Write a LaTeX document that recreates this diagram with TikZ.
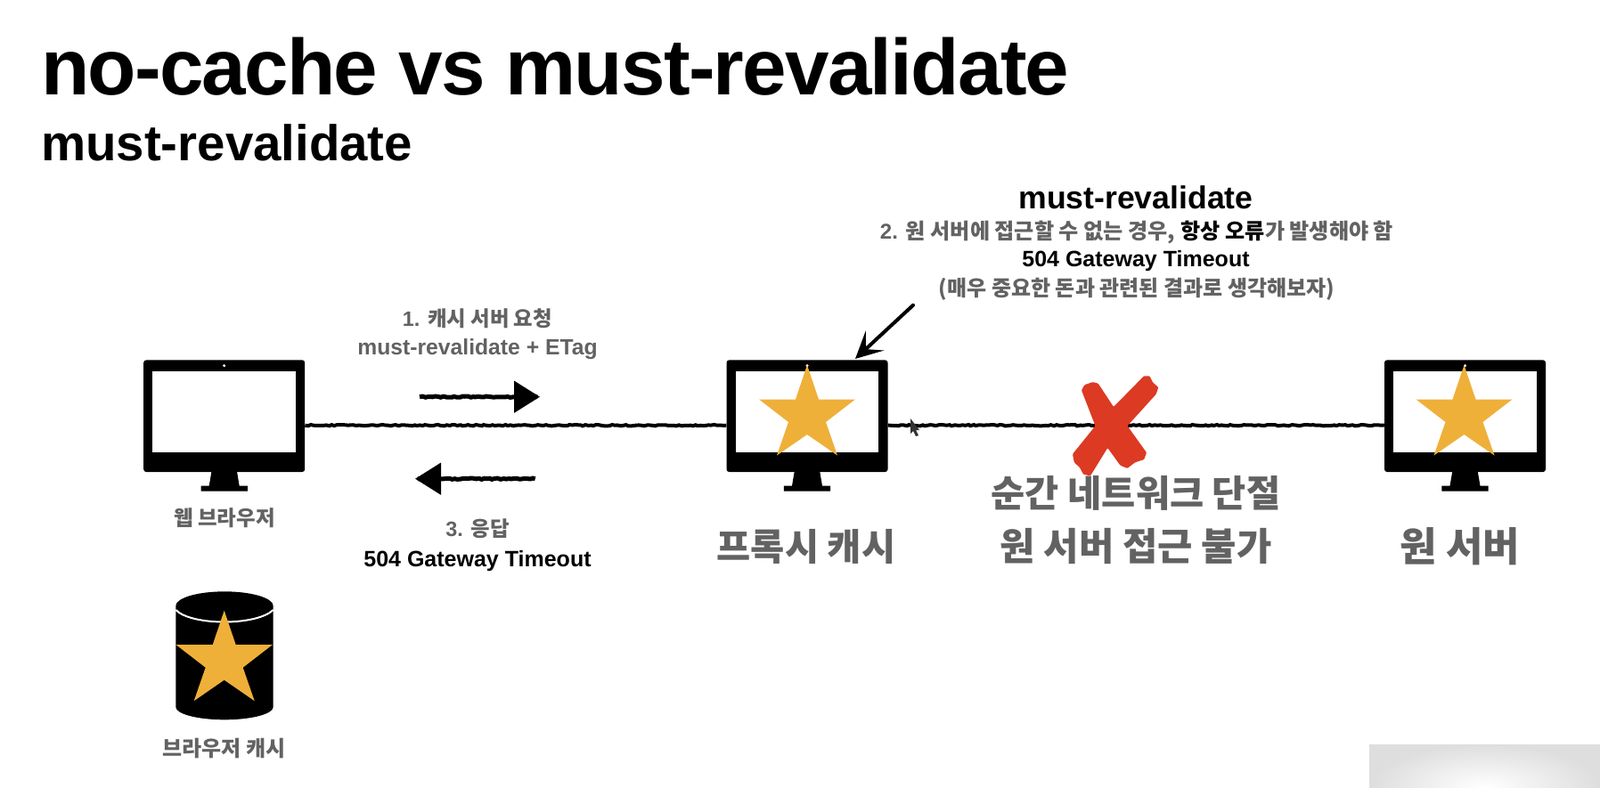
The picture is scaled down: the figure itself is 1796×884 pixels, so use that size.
\documentclass[tikz,border=0pt]{standalone}
\usepackage{fontspec}
\setmainfont{Liberation Sans}
\newfontfamily\krfont{Noto Sans CJK KR}
\usetikzlibrary{arrows.meta,decorations.pathmorphing,shapes.geometric}
\newcommand{\K}[1]{{\krfont #1}}
\newcommand{\fsz}[1]{\fontsize{#1}{#1}\selectfont\bfseries}
\definecolor{gold}{HTML}{EFB03A}
\definecolor{crossred}{HTML}{DC3A22}
\definecolor{labelgray}{HTML}{626262}
\tikzset{
  txt/.style={inner sep=0pt,align=center,text=labelgray},
  blk/.style={inner sep=0pt,align=center,text=black},
  monbody/.style={draw=none,fill=black,rounded corners=3pt,minimum width=181pt,minimum height=125.7pt,inner sep=0pt},
  monscreen/.style={draw=none,fill=white,minimum width=160.6pt,minimum height=91.6pt,inner sep=0pt},
  rough/.style={draw=black,line width=4pt,decorate,decoration={random steps,segment length=3pt,amplitude=0.7pt}},
  flow/.style={draw=black,line width=5pt,decorate,decoration={random steps,segment length=3pt,amplitude=0.7pt,post=lineto,post length=3pt},-{Triangle[length=29pt,width=35pt]}},
  goldstar/.pic={\fill[gold] (0,0)--(13,38.5)--(54,38.5)--(21,64)--(34,101.5)--(0,78)--(-34,101.5)--(-21,64)--(-54,38.5)--(-13,38.5)--cycle;}
}
\newcommand{\monitor}[2]{%
  \node[monbody] (#1) at (#2,467.2) {};
  \fill[black] (#2-14,528)--(#2+14,528)--(#2+17,545.7)--(#2+26.2,545.7)--(#2+26.2,551.7)--(#2-26.2,551.7)--(#2-26.2,545.7)--(#2-17,545.7)--cycle;
  \node[monscreen] (#1s) at (#2,462.5) {};
  \fill[white] (#2,410.7) circle (1.7);
}
\begin{document}
\begin{tikzpicture}[x=1pt,y=-1pt]
\useasboundingbox[fill=white] (0,0) rectangle (1796,884);
% vignette corner
\begin{scope}
\clip (1537,836) rectangle (1796,884);
\shade[inner color=white,outer color=black!13] (1537,836) rectangle (1796,932);
\end{scope}
% titles
\node[blk,anchor=base west] (title) at (46,106) {\fsz{89}\addfontfeature{LetterSpace=-2.0}no-cache vs must-revalidate};
\node[blk,anchor=base west] (subtitle) at (46,180) {\fsz{56.4}must-revalidate};
% monitors
\monitor{m1}{251.7}
\monitor{m2}{906}
\monitor{m3}{1644.5}
\pic at (906,410) {goldstar};
\pic at (1643.5,410) {goldstar};
% links
\coordinate (lnk) at (0,477.7);
\draw[rough] (m1.east |- lnk) -- (m2.west |- lnk);
\draw[rough] (m2.east |- lnk) -- (m3.west |- lnk);
% cursor
\fill[black!80] (1022,470)--(1032,483)--(1028,483)--(1031,489)--(1028,490)--(1025,484)--(1022,487)--cycle;
% cross
\fill[crossred,rounded corners=1pt] (1214,438.3)--(1217.3,432.3)--(1226.7,429)--(1232.7,430.7)--(1250,457)--(1284,422.3)--(1290.5,422.3)--(1294,429.5)--(1300.3,435)--(1297.7,442.7)--(1265.5,478.3)--(1287,508.3)--(1284.3,516)--(1274,519.3)--(1265.5,526)--(1257.5,522.7)--(1243.3,503)--(1224,534.3)--(1216,532.7)--(1212.3,525.5)--(1205.7,519)--(1204,510)--(1229.5,478.3)--cycle;
% flow arrows
\coordinate (r1) at (471,445.7);\coordinate (r2) at (606,445.7);
\coordinate (l1) at (600.7,537.7);\coordinate (l2) at (466,537.7);
\draw[flow] (r1) -- (r2);
\draw[flow] (l1) -- (l2);
\coordinate (d1) at (1025,342.7);
\coordinate (d2) at (960,403);
\draw[black,line width=4pt,line cap=round,-{Stealth[length=30pt,width=30pt,inset=14pt]}] (d1) -- (d2);
% labels
\node[txt] (l1a) at (536,358) {\fsz{23.4}1. \K{캐시 서버 요청}};
\node[txt] (l1b) at (536,392) {\fsz{24.7}must-revalidate + ETag};
\node[txt] (l3a) at (536,594) {\fsz{23.4}3. \K{응답}};
\node[blk] (l3b) at (536,630) {\fsz{25}504 Gateway Timeout};
\node[txt] (lweb) at (252,582) {\fsz{23.5}\K{웹 브라우저}};
\node[txt] (lbc) at (251.5,841) {\fsz{24}\K{브라우저 캐시}};
\node[txt] (lpx) at (905,613.5) {\fsz{41.5}\K{프록시 캐시}};
\node[txt] (lorg) at (1639,613.5) {\fsz{45}\K{원 서버}};
\node[txt] (lcut) at (1275,554) {\fsz{41.5}\K{순간 네트워크 단절}};
\node[txt] (lno) at (1275,613.5) {\fsz{42.8}\K{원 서버 접근 불가}};
\node[blk] (h1) at (1275,222) {\fsz{35.6}must-revalidate};
\node[txt] (h2) at (1276,261) {\fsz{24.1}2. \K{원 서버에 접근할 수 없는 경우,} \textcolor{black}{\K{항상 오류}}\K{가 발생해야 함}};
\node[blk] (h3) at (1275,293) {\fsz{25}504 Gateway Timeout};
\node[txt] (h4) at (1276,325) {\fsz{24}\K{(매우 중요한 돈과 관련된 결과로 생각해보자)}};
% browser cache cylinder
\fill[black] (197.3,680.5) arc[start angle=180,end angle=360,x radius=54.7,y radius=16.2] -- (306.7,794) arc[start angle=0,end angle=180,x radius=54.7,y radius=14.3] -- cycle;
\draw[white,line width=2pt] (197.3,685) .. controls (215,703) and (288,703) .. (306.7,685);
\pic at (251.7,685.7) {goldstar};
\end{tikzpicture}
\end{document}
